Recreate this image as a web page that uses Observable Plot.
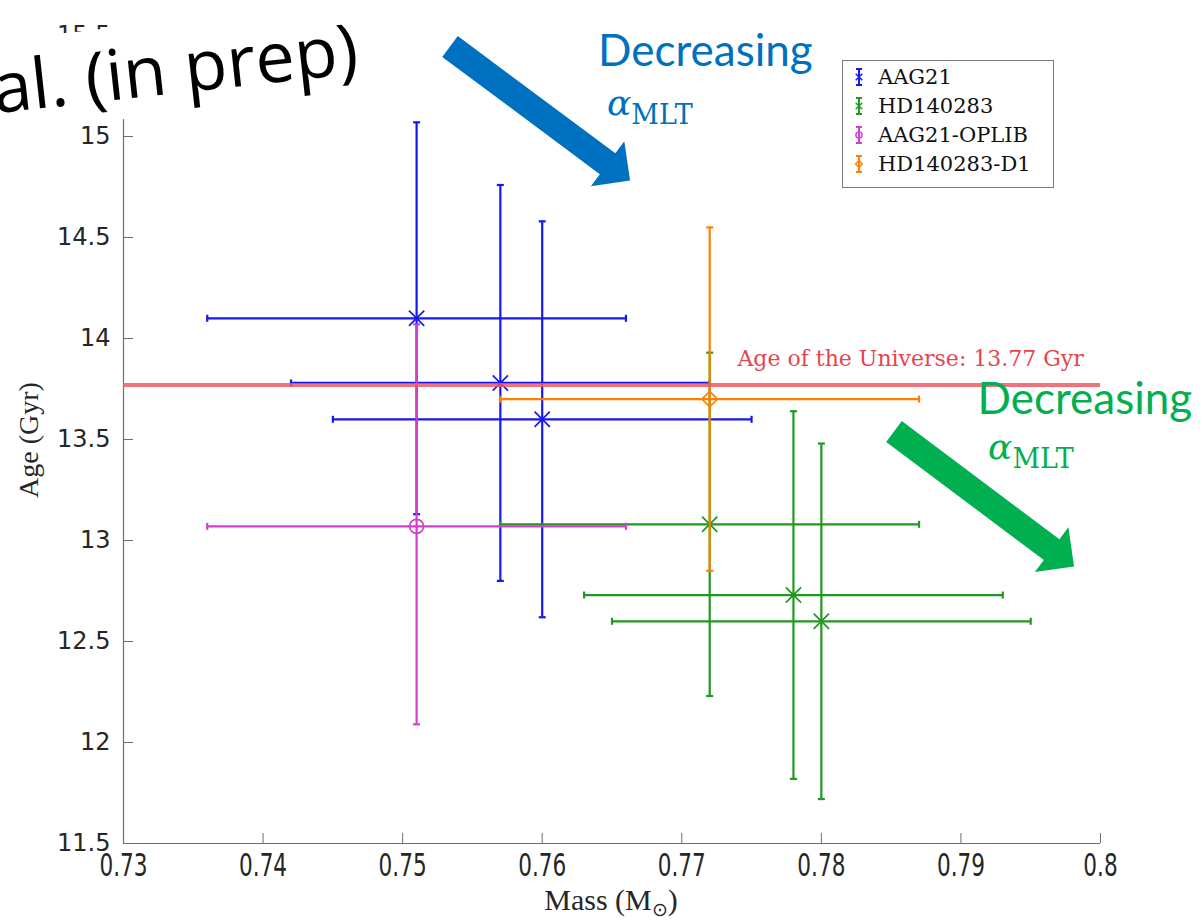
<!DOCTYPE html>
<html><head><meta charset="utf-8">
<script src="https://cdn.jsdelivr.net/npm/d3@7"></script>
<script src="https://cdn.jsdelivr.net/npm/@observablehq/plot@0.6"></script>
<style>
html,body{margin:0;padding:0;background:#fff;}
#chart{position:relative;width:1204px;height:923px;overflow:hidden;background:#fff;}
</style></head><body><div id="chart"></div>
<script>
// ---- series ----
const seriesNames = ["AAG21", "HD140283", "AAG21-OPLIB", "HD140283-D1"];
const seriesColors = ["#1717f2", "#1f991f", "#d13fd1", "#ff8000"];
const seriesSymbols = ["times", "times", "circle", "diamond2"];

// AAG21
const aag21Mass   = [0.751, 0.757, 0.760];
const aag21Age    = [14.10, 13.78, 13.60];
const aag21MassLo = [0.736, 0.742, 0.745];
const aag21MassHi = [0.766, 0.772, 0.775];
const aag21AgeLo  = [13.13, 12.80, 12.62];
const aag21AgeHi  = [15.07, 14.76, 14.58];
// HD140283
const hdMass   = [0.772, 0.778, 0.780];
const hdAge    = [13.08, 12.73, 12.60];
const hdMassLo = [0.757, 0.763, 0.765];
const hdMassHi = [0.787, 0.793, 0.795];
const hdAgeLo  = [12.23, 11.82, 11.72];
const hdAgeHi  = [13.93, 13.64, 13.48];
// AAG21-OPLIB
const oplibMass   = [0.751];
const oplibAge    = [13.07];
const oplibMassLo = [0.736];
const oplibMassHi = [0.766];
const oplibAgeLo  = [12.09];
const oplibAgeHi  = [14.07];
// HD140283-D1
const d1Mass   = [0.772];
const d1Age    = [13.70];
const d1MassLo = [0.757];
const d1MassHi = [0.787];
const d1AgeLo  = [12.85];
const d1AgeHi  = [14.55];

// ---- axes ----
const xTicks = [0.73, 0.74, 0.75, 0.76, 0.77, 0.78, 0.79, 0.8];
const yTicks = [11.5, 12, 12.5, 13, 13.5, 14, 14.5, 15, 15.5];
const xDomain = [0.73, 0.8];
const yDomain = [11.5, 15.5];
const xTitle = "Mass (M";
const xTitleSub = "⊙";
const yTitle = "Age (Gyr)";

// ---- reference line ----
const universeAge = 13.77;
const universeLabel = "Age of the Universe: 13.77 Gyr";

// ---- annotations (data coordinates) ----
const arrowNames = ["blue", "green"];
const arrowTailMass = [0.75343, 0.78524];
const arrowTailAge  = [15.443, 13.537];
const arrowTipMass  = [0.76633, 0.79814];
const arrowTipAge   = [14.780, 12.869];
const arrowColors = ["#0070c0", "#00b050"];
const noteText = "Decreasing";
const noteMass = [0.7640, 0.79119];
const noteAge  = [15.347, 13.624];
const alphaMass = [0.76468, 0.79198];
const alphaAge  = [15.104, 13.400];
const overlayText = "al. (in prep)";

// ---- build rows ----
const groups = [
  [aag21Mass, aag21Age, aag21MassLo, aag21MassHi, aag21AgeLo, aag21AgeHi],
  [hdMass, hdAge, hdMassLo, hdMassHi, hdAgeLo, hdAgeHi],
  [oplibMass, oplibAge, oplibMassLo, oplibMassHi, oplibAgeLo, oplibAgeHi],
  [d1Mass, d1Age, d1MassLo, d1MassHi, d1AgeLo, d1AgeHi]
];
const rowsBySeries = groups.map((g, i) => g[0].map((m, j) => ({
  series: seriesNames[i], mass: m, age: g[1][j],
  massLo: g[2][j], massHi: g[3][j], ageLo: g[4][j], ageHi: g[5][j]
})));

const capV = {draw(ctx) { ctx.moveTo(0, -3.5); ctx.lineTo(0, 3.5); }};
const capH = {draw(ctx) { ctx.moveTo(-3.5, 0); ctx.lineTo(3.5, 0); }};

const seriesMarks = rowsBySeries.flatMap((rows, i) => {
  const c = seriesColors[i];
  return [
    Plot.ruleY(rows, {y: "age", x1: "massLo", x2: "massHi", stroke: c, strokeWidth: 2.2}),
    Plot.ruleX(rows, {x: "mass", y1: "ageLo", y2: "ageHi", stroke: c, strokeWidth: 2.2}),
    Plot.dot(rows, {x: "massLo", y: "age", symbol: capV, stroke: c, strokeWidth: 2.2}),
    Plot.dot(rows, {x: "massHi", y: "age", symbol: capV, stroke: c, strokeWidth: 2.2}),
    Plot.dot(rows, {x: "mass", y: "ageLo", symbol: capH, stroke: c, strokeWidth: 2.2}),
    Plot.dot(rows, {x: "mass", y: "ageHi", symbol: capH, stroke: c, strokeWidth: 2.2}),
    Plot.dot(rows, {x: "mass", y: "age", symbol: seriesSymbols[i], r: 7, stroke: c, strokeWidth: 1.7, fill: "none"})
  ];
});

const axisGrey = "#6e6e6e";
const labelColor = "#262626";

const chart = Plot.plot({
  width: 1204,
  height: 923,
  marginLeft: 123,
  marginRight: 104,
  marginTop: 35,
  marginBottom: 80,
  style: {background: "transparent", overflow: "visible"},
  x: {domain: xDomain, label: null},
  y: {domain: yDomain, label: null},
  marks: [
    Plot.ruleX([xDomain[0]], {stroke: axisGrey, strokeWidth: 1.2}),
    Plot.ruleY([yDomain[0]], {stroke: axisGrey, strokeWidth: 1.2}),
    Plot.axisX(xTicks, {tickSize: -10, fill: "none", stroke: axisGrey, label: null}),
    Plot.axisY(yTicks, {tickSize: -10, fill: "none", stroke: axisGrey, label: null}),
    Plot.axisX(xTicks, {tickSize: 0, stroke: "none", fill: labelColor, tickPadding: 10, fontSize: 24,
      fontFamily: "DejaVu Sans Condensed", tickFormat: d => String(d), label: null}),
    Plot.axisY(yTicks, {tickSize: 0, stroke: "none", fill: labelColor, tickPadding: 13, fontSize: 24,
      fontFamily: "DejaVu Sans", tickFormat: d => String(d), label: null}),
    ...seriesMarks,
    Plot.ruleY([universeAge], {stroke: "#ec5a60", strokeOpacity: 0.85, strokeWidth: 4}),
    Plot.text([universeLabel], {x: 0.77399, y: 13.866, text: d => d, textAnchor: "start", lineAnchor: "bottom",
      fill: "#e6454f", fontFamily: "DejaVu Serif", fontSize: 22}),
    Plot.text(noteMass, {x: d => d, y: (d, i) => noteAge[i], text: () => noteText, textAnchor: "start",
      lineAnchor: "bottom", fill: (d, i) => arrowColors[i], fontFamily: "Lato", fontSize: 44})
  ]
});

document.getElementById("chart").appendChild(chart);

// stretch x tick labels vertically
d3.select(chart).selectAll('g[aria-label="x-axis tick label"] text').each(function() {
  const t = this.getAttribute("transform") || "";
  this.setAttribute("transform", t + " scale(1,1.3)");
});

const svg = d3.select(chart);
const sx = chart.scale("x"), sy = chart.scale("y");

// arrows (block arrows, built from data-coordinate endpoints)
arrowNames.forEach((n, i) => {
  const T = [sx.apply(arrowTailMass[i]), sy.apply(arrowTailAge[i])];
  const P = [sx.apply(arrowTipMass[i]), sy.apply(arrowTipAge[i])];
  const dx = P[0] - T[0], dy = P[1] - T[1], L = Math.hypot(dx, dy);
  const u = [dx / L, dy / L], nv = [-u[1], u[0]];
  const w = 13, hw = 28, hl = 28;
  const B = [P[0] - u[0] * hl, P[1] - u[1] * hl];
  const pts = [
    [T[0] + nv[0] * w, T[1] + nv[1] * w],
    [B[0] + nv[0] * w, B[1] + nv[1] * w],
    [B[0] + nv[0] * hw, B[1] + nv[1] * hw],
    P,
    [B[0] - nv[0] * hw, B[1] - nv[1] * hw],
    [B[0] - nv[0] * w, B[1] - nv[1] * w],
    [T[0] - nv[0] * w, T[1] - nv[1] * w]
  ];
  svg.append("path").attr("d", "M" + pts.map(p => p.join(",")).join("L") + "Z").attr("fill", arrowColors[i]);
});

// alpha_MLT labels
alphaMass.forEach((m, i) => {
  const t = svg.append("text").attr("x", sx.apply(m)).attr("y", sy.apply(alphaAge[i]))
    .attr("text-anchor", "start").attr("fill", arrowColors[i]).attr("font-family", "DejaVu Serif");
  t.append("tspan").attr("font-style", "italic").attr("font-size", 36).text("α");
  t.append("tspan").attr("font-size", 27).attr("dy", 9).text("MLT");
});

// axis titles
const xt = svg.append("text").attr("x", 611).attr("y", 910).attr("text-anchor", "middle")
  .attr("font-family", "Liberation Serif").attr("font-size", 30).attr("fill", labelColor);
xt.append("tspan").text(xTitle);
xt.append("tspan").attr("font-size", 19).attr("dy", 6).text(xTitleSub);
xt.append("tspan").attr("dy", -6).text(")");
svg.append("text").attr("transform", "translate(38,440) rotate(-90)").attr("text-anchor", "middle")
  .attr("font-family", "Liberation Serif").attr("font-size", 28).attr("fill", labelColor).text(yTitle);

// legend
const lg = svg.append("g");
lg.append("rect").attr("x", 842.5).attr("y", 60.5).attr("width", 211).attr("height", 127)
  .attr("fill", "#fff").attr("stroke", "#7a7a7a").attr("stroke-width", 1);
seriesNames.forEach((name, i) => {
  const cy = 77 + i * 29, cx = 859, c = seriesColors[i];
  lg.append("path").attr("d", `M${cx},${cy - 8}V${cy + 8}M${cx - 3},${cy - 8}H${cx + 3}M${cx - 3},${cy + 8}H${cx + 3}`)
    .attr("stroke", c).attr("stroke-width", 2).attr("fill", "none");
  const symType = {times: d3.symbolTimes, circle: d3.symbolCircle, diamond2: d3.symbolDiamond2}[seriesSymbols[i]];
  lg.append("path").attr("transform", `translate(${cx},${cy})`).attr("d", d3.symbol(symType, 30)())
    .attr("stroke", c).attr("stroke-width", 1.4).attr("fill", "none");
  lg.append("text").attr("x", 878).attr("y", cy + 7).attr("text-anchor", "start").attr("font-family", "DejaVu Serif")
    .attr("font-size", 21).attr("fill", "#111").text(name);
});

// overlay slide text with white box
const ov = svg.append("g").attr("transform", "translate(360,73) rotate(-6.3)");
ov.append("rect").attr("x", -440).attr("y", -72).attr("width", 460).attr("height", 92).attr("fill", "#fff");
ov.append("text").attr("text-anchor", "end").attr("font-family", "Open Sans").attr("font-size", 70)
  .attr("fill", "#000").text(overlayText);
</script></body></html>
